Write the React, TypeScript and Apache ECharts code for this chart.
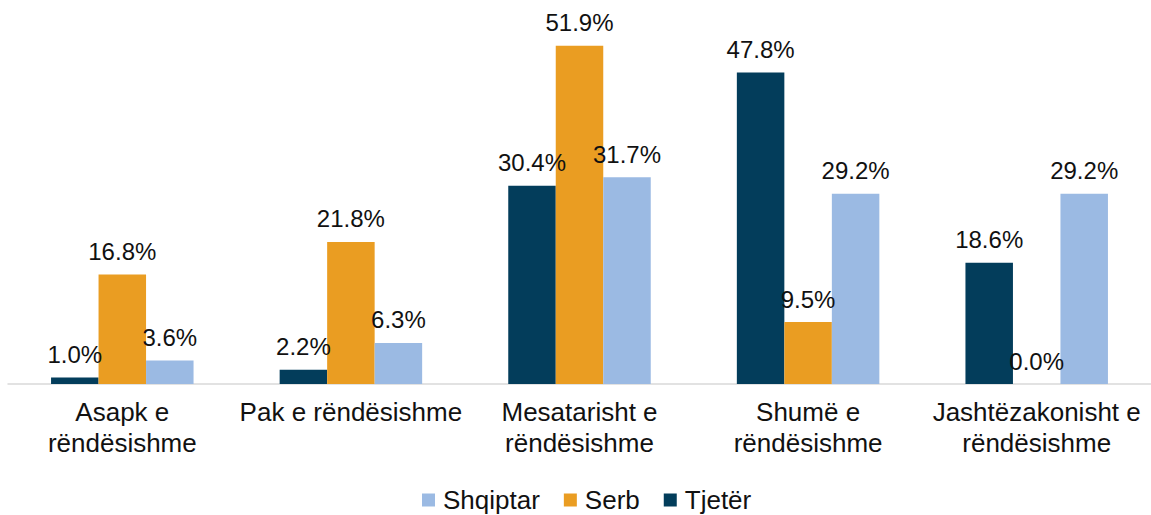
import React, { useEffect, useRef } from "react";
import * as echarts from "echarts";

const categories = [
  "Asapk e\nrëndësishme",
  "Pak e rëndësishme",
  "Mesatarisht e\nrëndësishme",
  "Shumë e\nrëndësishme",
  "Jashtëzakonisht e\nrëndësishme",
];
const tjeter = [1.0, 2.2, 30.4, 47.8, 18.6];
const serb = [16.8, 21.8, 51.9, 9.5, 0.0];
const shqiptar = [3.6, 6.3, 31.7, 29.2, 29.2];
const legendOrder = ["Shqiptar", "Serb", "Tjetër"];

const FONT = "'Liberation Sans', Arial, sans-serif";
const TEXT = "#111111";

export default function App() {
  const ref = useRef<HTMLDivElement>(null);
  useEffect(() => {
    if (!ref.current) return;
    const chart = echarts.init(ref.current, undefined, { renderer: "svg" });
    const label = {
      show: true,
      position: "top",
      distance: 11,
      fontSize: 24,
      fontFamily: FONT,
      color: TEXT,
      formatter: (p: any) => Number(p.value).toFixed(1) + "%",
    };
    const mk = (name: string, data: number[], color: string) => ({
      name,
      type: "bar",
      data,
      barWidth: 47.5,
      barGap: "0%",
      itemStyle: { color },
      label,
    });
    chart.setOption({
      animation: false,
      textStyle: { fontFamily: FONT },
      grid: { left: 8, width: 1145, top: 45, height: 339 },
      legend: {
        data: legendOrder,
        left: 422,
        top: 487,
        padding: 0,
        icon: "rect",
        itemWidth: 13,
        itemHeight: 13,
        itemGap: 24,
        textStyle: {
          fontSize: 26,
          lineHeight: 26,
          fontFamily: FONT,
          color: TEXT,
          padding: [0, 0, 0, 3],
        },
      },
      xAxis: {
        type: "category",
        data: categories,
        axisTick: { show: false },
        axisLine: { lineStyle: { color: "#d9d9d9", width: 1.5 } },
        axisLabel: {
          interval: 0,
          fontSize: 26,
          lineHeight: 31,
          margin: 12,
          color: TEXT,
          fontFamily: FONT,
        },
      },
      yAxis: {
        type: "value",
        min: 0,
        max: 52,
        show: false,
        splitLine: { show: false },
      },
      series: [
        mk("Tjetër", tjeter, "#033d5b"),
        mk("Serb", serb, "#ea9d22"),
        mk("Shqiptar", shqiptar, "#9bbae3"),
      ],
    });
    return () => chart.dispose();
  }, []);
  return (
    <div
      ref={ref}
      style={{ position: "fixed", left: 0, top: 0, width: 1151, height: 515, background: "#fff" }}
    />
  );
}
